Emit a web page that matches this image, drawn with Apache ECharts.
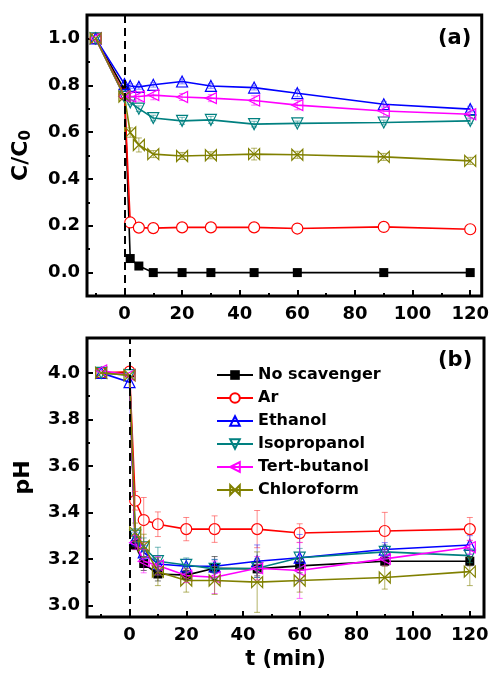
<!DOCTYPE html>
<html>
<head>
<meta charset="utf-8">
<script src="https://cdn.jsdelivr.net/npm/echarts@6/dist/echarts.min.js"></script>
<style>html,body{margin:0;padding:0;background:#fff;}#c{width:492px;height:676px;}</style>
</head>
<body>
<div id="c"></div>
<script>
// ---- data ----
const times = [-10, 0, 2, 5, 10, 20, 30, 45, 60, 90, 120];
const seriesNames = ['No scavenger', 'Ar', 'Ethanol', 'Isopropanol', 'Tert-butanol', 'Chloroform'];

// (a) C/C0
const ccNoScav = [1.0, 0.78, 0.06, 0.028, 0.0, 0.0, 0.0, 0.0, 0.0, 0.0, 0.0];
const ccAr     = [1.0, 0.76, 0.214, 0.192, 0.19, 0.193, 0.193, 0.193, 0.188, 0.195, 0.185];
const ccEth    = [1.0, 0.805, 0.797, 0.793, 0.802, 0.816, 0.797, 0.79, 0.766, 0.719, 0.698];
const ccIso    = [1.0, 0.75, 0.727, 0.70, 0.66, 0.648, 0.652, 0.634, 0.637, 0.641, 0.648];
const ccTert   = [1.0, 0.752, 0.752, 0.752, 0.758, 0.75, 0.745, 0.735, 0.715, 0.69, 0.676];
const ccChl    = [1.0, 0.752, 0.598, 0.545, 0.506, 0.498, 0.501, 0.506, 0.503, 0.494, 0.477];
const ccEthErr  = [0, 0, 0.01, 0.01, 0.01, 0.01, 0.01, 0.01, 0.015, 0.012, 0.012];
const ccIsoErr  = [0, 0, 0.01, 0.012, 0.012, 0.015, 0.015, 0.012, 0.01, 0.01, 0.012];
const ccTertErr = [0, 0, 0.02, 0.02, 0.02, 0.015, 0.015, 0.02, 0.02, 0.025, 0.02];
const ccChlErr  = [0, 0, 0.02, 0.03, 0.015, 0.015, 0.015, 0.025, 0.015, 0.015, 0.015];

// (b) pH
const phNoScav = [4.0, 4.0, 3.26, 3.18, 3.135, 3.13, 3.16, 3.157, 3.17, 3.19, 3.19];
const phAr     = [4.0, 4.005, 3.45, 3.367, 3.349, 3.328, 3.328, 3.328, 3.311, 3.32, 3.328];
const phEth    = [4.0, 3.96, 3.285, 3.228, 3.178, 3.168, 3.168, 3.19, 3.205, 3.24, 3.26];
const phIso    = [4.0, 3.99, 3.30, 3.25, 3.19, 3.174, 3.157, 3.16, 3.205, 3.23, 3.214];
const phTert   = [4.01, 3.99, 3.27, 3.19, 3.171, 3.128, 3.121, 3.16, 3.15, 3.20, 3.25];
const phChl    = [4.0, 3.99, 3.314, 3.256, 3.145, 3.107, 3.107, 3.10, 3.107, 3.12, 3.145];
const phNoErr   = [0, 0, 0.02, 0.03, 0.03, 0.02, 0.05, 0.03, 0.03, 0.02, 0.02];
const phArErr   = [0, 0, 0.04, 0.097, 0.053, 0.05, 0.057, 0.08, 0.04, 0.08, 0.05];
const phEthErr  = [0, 0, 0.03, 0.03, 0.03, 0.03, 0.03, 0.07, 0.1, 0.03, 0.04];
const phIsoErr  = [0, 0, 0.03, 0.04, 0.06, 0.03, 0.04, 0.04, 0.04, 0.03, 0.03];
const phTertErr = [0, 0, 0.03, 0.05, 0.04, 0.03, 0.07, 0.05, 0.12, 0.03, 0.03];
const phChlErr  = [0, 0, 0.04, 0.05, 0.06, 0.05, 0.06, 0.13, 0.05, 0.05, 0.06];

// ticks
const xMajor = [0, 20, 40, 60, 80, 100, 120];
const xMinor = [-10, 10, 30, 50, 70, 90, 110];
const ccMajor = [0.0, 0.2, 0.4, 0.6, 0.8, 1.0];
const ccMinor = [-0.1, 0.1, 0.3, 0.5, 0.7, 0.9];
const phMajor = [3.0, 3.2, 3.4, 3.6, 3.8, 4.0];
const phMinor = [3.1, 3.3, 3.5, 3.7, 3.9];

// ---- styles ----
const FONT = 'DejaVu Sans';
const colors = ['#000000', '#ff0000', '#0000ff', '#008080', '#ff00ff', '#808000'];
const errColors = ['rgba(0,0,0,0.55)', 'rgba(255,60,60,0.6)', 'rgba(60,60,255,0.6)', 'rgba(0,128,128,0.55)', 'rgba(255,0,255,0.55)', 'rgba(128,128,0,0.6)'];
const hourglass = 'path://M0,0L10,0L0,10L10,10Z';
const symbols = [
  {symbol: 'rect', rot: 0, fill: '#000000', size: 9},
  {symbol: 'circle', rot: 0, fill: '#ffffff', size: 11},
  {symbol: 'triangle', rot: 0, fill: 'rgba(255,255,255,0)', size: 11},
  {symbol: 'triangle', rot: 180, fill: 'rgba(255,255,255,0)', size: 11},
  {symbol: 'triangle', rot: 90, fill: 'rgba(255,255,255,0)', size: 11},
  {symbol: hourglass, rot: 90, fill: 'rgba(255,255,255,0)', size: 11}
];

function lineSeries(i, vals, xi, yi, extra) {
  const s = {
    name: seriesNames[i],
    type: 'line',
    xAxisIndex: xi, yAxisIndex: yi,
    data: times.map((t, k) => [t, vals[k]]),
    symbol: symbols[i].symbol,
    symbolSize: symbols[i].size,
    symbolRotate: symbols[i].rot,
    showAllSymbol: true,
    lineStyle: {color: colors[i], width: 1.6},
    itemStyle: {color: symbols[i].fill, borderColor: colors[i], borderWidth: 1.2},
    emphasis: {disabled: true},
    z: 3 + i * 0.1
  };
  if (i === 0) { s.itemStyle.borderWidth = 0; s.itemStyle.color = '#000'; }
  return Object.assign(s, extra || {});
}

function errSeries(i, vals, errs, xi, yi) {
  const d = [];
  times.forEach((t, k) => { if (errs[k] > 0) d.push([t, vals[k] - errs[k], vals[k] + errs[k]]); });
  const col = errColors[i];
  return {
    type: 'custom',
    xAxisIndex: xi, yAxisIndex: yi,
    data: d,
    encode: {x: 0, y: [1, 2]},
    silent: true,
    z: 4,
    renderItem: function (params, api) {
      const x = api.value(0);
      const p1 = api.coord([x, api.value(2)]);
      const p2 = api.coord([x, api.value(1)]);
      const w = 3;
      const st = {stroke: col, lineWidth: 1};
      return {type: 'group', children: [
        {type: 'line', shape: {x1: p1[0], y1: p1[1], x2: p2[0], y2: p2[1]}, style: st},
        {type: 'line', shape: {x1: p1[0] - w, y1: p1[1], x2: p1[0] + w, y2: p1[1]}, style: st},
        {type: 'line', shape: {x1: p2[0] - w, y1: p2[1], x2: p2[0] + w, y2: p2[1]}, style: st}
      ]};
    }
  };
}

const dashLine = {
  silent: true, symbol: 'none', label: {show: false},
  lineStyle: {type: [8, 5], color: '#000', width: 2},
  data: [{xAxis: 0}]
};

const lbl = {fontFamily: FONT, fontWeight: 'bold', fontSize: 18, color: '#000'};
const noLine = {show: false, onZero: false};

function mainX(grid, min, max, showName) {
  return {
    type: 'value', gridIndex: grid, min: min, max: max, position: 'bottom',
    axisLine: noLine,
    splitLine: {show: false},
    axisTick: {show: true, inside: true, length: 6, lineStyle: {width: 2, color: '#000'}, customValues: xMajor},
    axisLabel: Object.assign({margin: 9, customValues: xMajor}, lbl),
    name: showName ? 't (min)' : '',
    nameLocation: 'middle', nameGap: 32,
    nameTextStyle: {fontFamily: FONT, fontWeight: 'bold', fontSize: 21, color: '#000'}
  };
}
function minorX(grid, min, max) {
  return {
    type: 'value', gridIndex: grid, min: min, max: max, position: 'bottom',
    axisLine: noLine, splitLine: {show: false}, axisLabel: {show: false},
    axisTick: {show: true, inside: true, length: 3, lineStyle: {width: 2, color: '#000'}, customValues: xMinor}
  };
}
function mainY(grid, min, max, major, name, gap) {
  return {
    type: 'value', gridIndex: grid, min: min, max: max, position: 'left',
    axisLine: noLine, splitLine: {show: false},
    axisTick: {show: true, inside: true, length: 6, lineStyle: {width: 2, color: '#000'}, customValues: major},
    axisLabel: Object.assign({margin: 7, customValues: major, formatter: v => Number(v).toFixed(1)}, lbl),
    name: name, nameLocation: 'middle', nameGap: gap,
    nameTextStyle: {
      fontFamily: FONT, fontWeight: 'bold', fontSize: 22, color: '#000',
      rich: {
        m: {fontFamily: FONT, fontWeight: 'bold', fontSize: 22, color: '#000'},
        s: {fontFamily: FONT, fontWeight: 'bold', fontSize: 15, color: '#000', verticalAlign: 'bottom', padding: [10, 0, 0, 0]}
      }
    }
  };
}
function minorY(grid, min, max, minor) {
  return {
    type: 'value', gridIndex: grid, min: min, max: max, position: 'left',
    axisLine: noLine, splitLine: {show: false}, axisLabel: {show: false},
    axisTick: {show: true, inside: true, length: 3, lineStyle: {width: 2, color: '#000'}, customValues: minor}
  };
}

const ccSets = [ccNoScav, ccAr, ccEth, ccIso, ccTert, ccChl];
const ccErrs = [null, null, ccEthErr, ccIsoErr, ccTertErr, ccChlErr];
const phSets = [phNoScav, phAr, phEth, phIso, phTert, phChl];
const phErrs = [phNoErr, phArErr, phEthErr, phIsoErr, phTertErr, phChlErr];

const series = [];
ccSets.forEach((v, i) => {
  series.push(lineSeries(i, v, 0, 0, i === 0 ? {markLine: dashLine} : null));
  if (ccErrs[i]) series.push(errSeries(i, v, ccErrs[i], 0, 0));
});
phSets.forEach((v, i) => {
  series.push(lineSeries(i, v, 2, 2, i === 0 ? {markLine: dashLine} : null));
  if (phErrs[i]) series.push(errSeries(i, v, phErrs[i], 2, 2));
});

const option = {
  animation: false,
  backgroundColor: '#ffffff',
  grid: [
    {left: 87, right: 8, top: 15, height: 281, show: true, borderColor: '#000', borderWidth: 3, backgroundColor: 'transparent', containLabel: false},
    {left: 87, right: 8, top: 338, height: 279, show: true, borderColor: '#000', borderWidth: 3, backgroundColor: 'transparent', containLabel: false}
  ],
  xAxis: [mainX(0, -13, 124, false), minorX(0, -13, 124), mainX(1, -15, 125, true), minorX(1, -15, 125)],
  yAxis: [
    mainY(0, -0.1, 1.1, ccMajor, '{m|C/C}{s|0}', 53), minorY(0, -0.1, 1.1, ccMinor),
    mainY(1, 2.95, 4.15, phMajor, 'pH', 53), minorY(1, 2.95, 4.15, phMinor)
  ],
  legend: {
    show: true,
    orient: 'vertical',
    left: 216, top: 365,
    padding: 0,
    itemWidth: 36, itemHeight: 12,
    itemGap: 3,
    data: seriesNames,
    textStyle: {fontFamily: FONT, fontWeight: 'bold', fontSize: 16, color: '#000', lineHeight: 20, height: 20}
  },
  graphic: [
    {type: 'text', left: 438, top: 28, style: {text: '(a)', fontFamily: FONT, fontWeight: 'bold', fontSize: 21, fill: '#000'}},
    {type: 'text', left: 438, top: 350, style: {text: '(b)', fontFamily: FONT, fontWeight: 'bold', fontSize: 21, fill: '#000'}}
  ],
  series: series
};

const chart = echarts.init(document.getElementById('c'), null, {renderer: 'canvas'});
chart.setOption(option);
</script>
</body>
</html>
